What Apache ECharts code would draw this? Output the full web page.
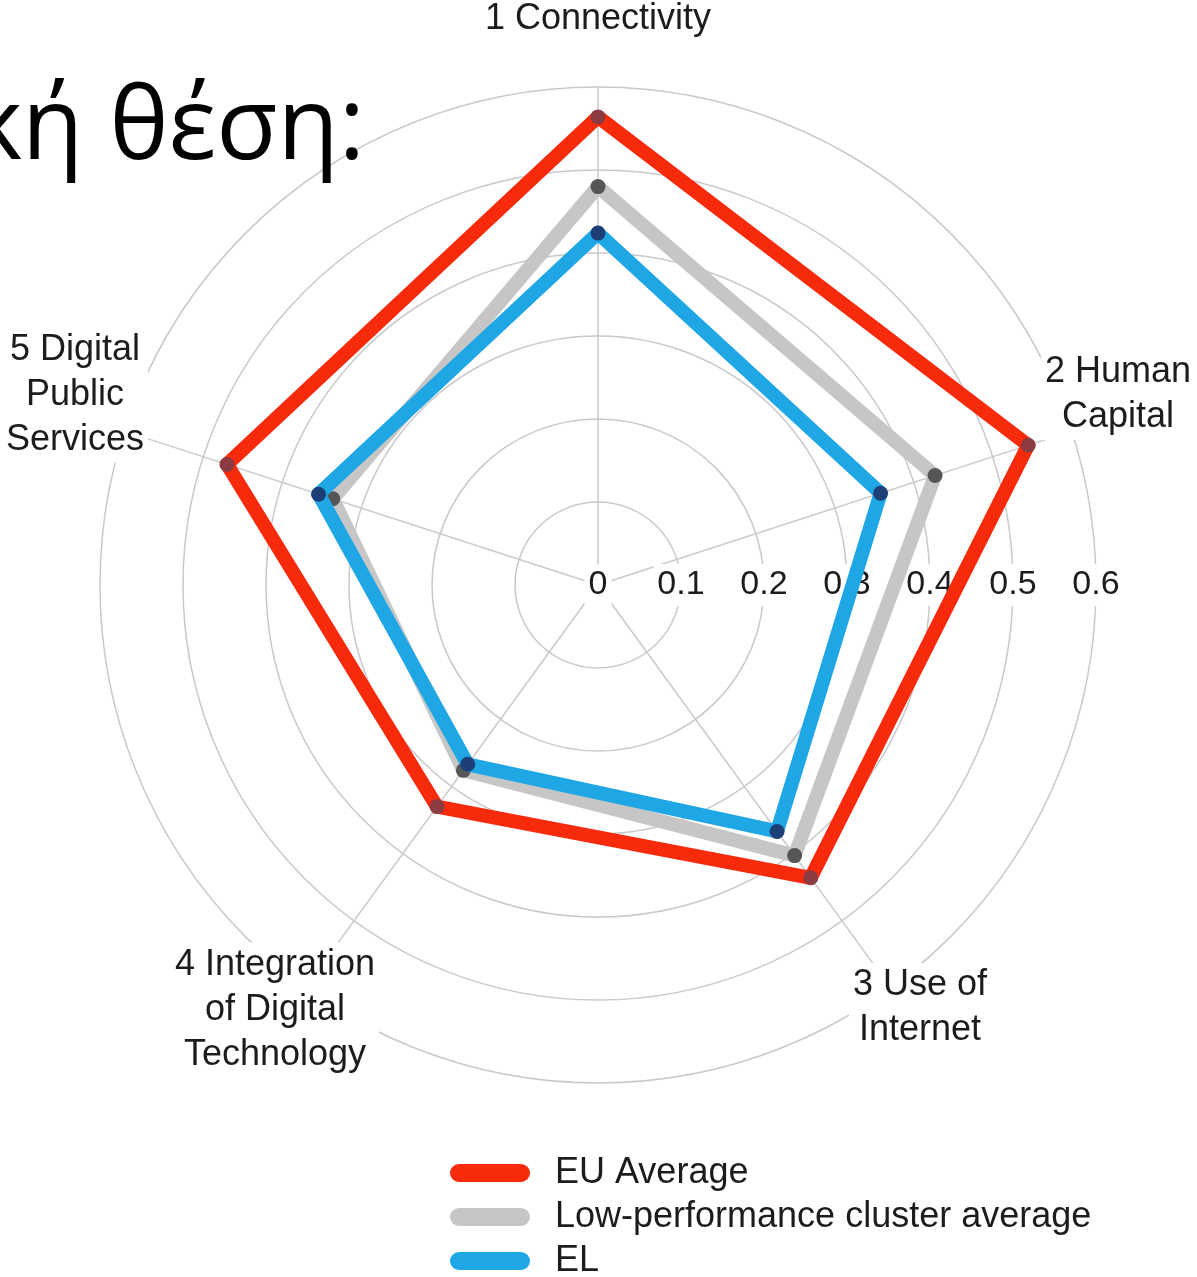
<!DOCTYPE html>
<html>
<head>
<meta charset="utf-8">
<script src="https://cdn.jsdelivr.net/npm/echarts@6/dist/echarts.min.js"></script>
<style>
  html, body { margin: 0; padding: 0; background: #fff; }
  #main { width: 1197px; height: 1277px; }
</style>
</head>
<body>
<div id="main"></div>
<script>
  // categories in the order echarts lays them out (top, then counter-clockwise)
  var categories = ['1 Connectivity', '5 Digital\nPublic\nServices', '4 Integration\nof Digital\nTechnology', '3 Use of\nInternet', '2 Human\nCapital'];
  var seriesNames = ['EU Average', 'Low-performance cluster average', 'EL'];
  var euAverage = [0.564, 0.470, 0.330, 0.436, 0.545];
  var lowCluster = [0.480, 0.336, 0.276, 0.403, 0.427];
  var elValues = [0.424, 0.354, 0.267, 0.367, 0.358];
  var tickLabels = ['0', '0.1', '0.2', '0.3', '0.4', '0.5', '0.6'];

  var lineColors = ['#f72a0c', '#c6c6c6', '#1ea7e4'];
  var dotColors = ['#8c3b42', '#565656', '#1d3f78'];
  var seriesValues = [euAverage, lowCluster, elValues];

  var CX = 598, CY = 585, R = 498;
  var font = '"Liberation Sans", Arial, sans-serif';

  // where the indicator names sit (same spot as in the picture)
  var namePos = [[598, 19], [75, 395], [275, 1010], [920, 1008], [1118, 395]];

  var myChart = echarts.init(document.getElementById('main'));

  var series = seriesNames.map(function (name, i) {
    return {
      name: name,
      type: 'radar',
      z: 2 + i,
      symbol: 'circle',
      symbolSize: 15,
      itemStyle: { color: dotColors[i] },
      lineStyle: { color: lineColors[i], width: 14, opacity: 1 },
      data: [{ name: name, value: seriesValues[i] }]
    };
  });

  var graphics = categories.map(function (c, i) {
    return {
      type: 'text',
      x: namePos[i][0],
      y: namePos[i][1],
      z: 10,
      style: {
        text: c,
        font: '36px ' + font,
        fill: '#1c1c1c',
        align: 'center',
        verticalAlign: 'middle',
        lineHeight: 45,
        backgroundColor: '#fff',
        padding: [0, 4]
      }
    };
  });
  // slide title, cut off on the left
  graphics.push({
    type: 'text',
    x: 365,
    y: 131,
    z: 10,
    style: {
      text: 'Ψηφιακή θέση:',
      font: '100px "Open Sans", "Noto Sans", sans-serif',
      fill: '#000',
      align: 'right',
      verticalAlign: 'middle'
    }
  });

  var option = {
    backgroundColor: '#fff',
    animation: false,
    legend: {
      orient: 'vertical',
      left: 445,
      top: 1150,
      height: 200,
      itemWidth: 80,
      itemHeight: 18,
      itemGap: 8,
      icon: 'path://M9,0H71A9,9,0,0,1,71,18H9A9,9,0,0,1,9,0Z',
      textStyle: { fontSize: 36, fontFamily: font, color: '#1c1c1c', padding: [0, 0, 0, 20] },
      data: seriesNames.map(function (n, i) {
        return { name: n, itemStyle: { color: lineColors[i] } };
      })
    },
    radar: {
      center: [CX, CY],
      radius: R,
      shape: 'circle',
      startAngle: 90,
      splitNumber: 6,
      axisName: { show: false },
      indicator: categories.map(function (c) { return { name: c, min: 0, max: 0.6 }; }),
      splitLine: { lineStyle: { color: '#c9c9c9', width: 1.5 } },
      splitArea: { show: false },
      axisLine: { lineStyle: { color: '#c9c9c9', width: 1.5 } }
    },
    polar: { center: [CX, CY], radius: R },
    angleAxis: { type: 'value', min: 0, max: 360, startAngle: 0, show: false },
    radiusAxis: {
      type: 'value',
      min: 0,
      max: 0.6,
      interval: 0.1,
      z: 1,
      axisLine: { show: false },
      axisTick: { show: false },
      splitLine: { show: false },
      axisLabel: {
        margin: 0,
        align: 'center',
        verticalAlign: 'middle',
        fontSize: 34,
        fontFamily: font,
        color: '#1c1c1c',
        backgroundColor: '#fff',
        padding: [7, 4, 1, 4],
        showMaxLabel: true,
        formatter: function (v) {
          return tickLabels[Math.round(v * 10)];
        }
      }
    },
    graphic: graphics,
    series: series
  };

  myChart.setOption(option);
</script>
</body>
</html>
